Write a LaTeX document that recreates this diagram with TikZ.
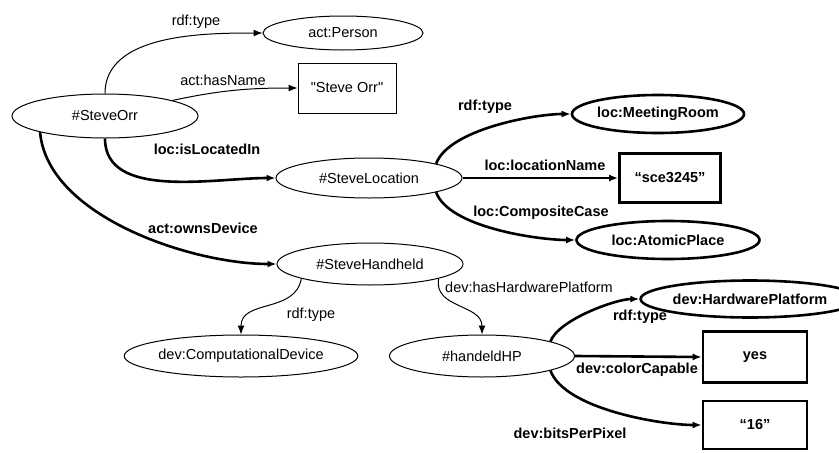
\documentclass[tikz,border=0pt]{standalone}
\usepackage{fontspec}
\setmainfont{Liberation Sans}[Ligatures=TeXOff]
\usetikzlibrary{shapes.geometric,arrows.meta}
\tikzset{
  base/.style={font=\fontsize{14.5}{16}\selectfont, inner sep=0pt},
  thinell/.style={base, ellipse, draw, line width=1pt},
  thickell/.style={base, ellipse, draw, line width=2.6pt, font=\fontsize{14.5}{16}\selectfont\bfseries},
  thinbox/.style={base, rectangle, draw, line width=1pt},
  thickbox/.style={base, rectangle, draw, line width=2.6pt, font=\fontsize{14.5}{16}\selectfont\bfseries},
  thinarr/.style={line width=1pt, -{Latex[length=9pt,width=7pt]}},
  thickarr/.style={line width=2.6pt, -{Latex[length=9pt,width=7pt]}},
  thinlab/.style={base},
  boldlab/.style={base, font=\fontsize{14.5}{16}\selectfont\bfseries},
}
\begin{document}
\begin{tikzpicture}[x=1pt,y=-1pt]
\useasboundingbox[fill=white] (0,0) rectangle (839,453);
% nodes
\node[thinell, minimum width=186pt, minimum height=44pt] (so) at (105,116) {\#SteveOrr};
\node[thinell, minimum width=160pt, minimum height=34pt] (per) at (343,33) {act:Person};
\node[thinbox, minimum width=98pt, minimum height=50pt] (nm) at (347,88) {"Steve Orr"};
\node[thinell, minimum width=186pt, minimum height=40pt] (loc) at (369,178) {\#SteveLocation};
\node[thickell, minimum width=164pt, minimum height=38pt] (mr) at (658,114) {loc:MeetingRoom};
\node[thickbox, minimum width=101pt, minimum height=49pt] (sce) at (670,178) {“sce3245”};
\node[thickell, minimum width=183pt, minimum height=38pt] (ap) at (668,240) {loc:AtomicPlace};
\node[thinell, minimum width=186pt, minimum height=42pt] (hh) at (370,264) {\#SteveHandheld};
\node[thinell, minimum width=187pt, minimum height=42pt] (cd) at (241,356) {dev:ComputationalDevice};
\node[thinell, minimum width=185pt, minimum height=42pt] (hp) at (482,356) {\#handeldHP};
\node[thickell, minimum width=176pt, minimum height=37pt] (hw) at (750,299) {dev:HardwarePlatform};
\node[thickbox, minimum width=104pt, minimum height=51pt] (yes) at (755,357) {yes};
\node[thickbox, minimum width=104pt, minimum height=48pt] (six) at (755,425) {“16”};
% edges
\draw[thinarr] (so.north) to[out=90,in=180,looseness=0.9] (per.west);
\draw[thinarr] (so.13) to[out=12,in=180] (nm.west);
\draw[thickarr] (so.south) to[out=-90,in=180,looseness=0.9] (loc.west);
\draw[thickarr] (so.-166) to[out=-85,in=180,looseness=0.8] (hh.west);
\draw[thickarr] (loc.12) to[out=70,in=180,looseness=0.65] (mr.west);
\draw[thickarr] (loc.east) -- (sce.west);
\draw[thickarr] (loc.-12) to[out=-70,in=180,looseness=0.65] (ap.west);
\draw[thinarr] (hh.-168) to[out=-100,in=90,looseness=1.1] (cd.north);
\draw[thinarr] (hh.-12) to[out=-100,in=90,looseness=1.1] (hp.north);
\draw[thickarr] (hp.12) to[out=70,in=180,looseness=0.6] (hw.west);
\draw[thickarr] (hp.east) -- (yes.west);
\draw[thickarr] (hp.-12) to[out=-70,in=180,looseness=0.65] (six.west);
% labels
\node[thinlab] (l1) at (196,22) {rdf:type};
\node[thinlab] (l2) at (223,80) {act:hasName};
\node[boldlab] (l3) at (207,149) {loc:isLocatedIn};
\node[boldlab] (l4) at (203,228) {act:ownsDevice};
\node[boldlab] (l5) at (485,107) {rdf:type};
\node[boldlab] (l6) at (545,165) {loc:locationName};
\node[boldlab] (l7) at (541,213) {loc:CompositeCase};
\node[thinlab] (l8) at (311,315) {rdf:type};
\node[thinlab] (l9) at (529,287) {dev:hasHardwarePlatform};
\node[boldlab] (l10) at (640,317) {rdf:type};
\node[boldlab] (l11) at (637,370) {dev:colorCapable};
\node[boldlab] (l12) at (570,433) {dev:bitsPerPixel};
\end{tikzpicture}
\end{document}
